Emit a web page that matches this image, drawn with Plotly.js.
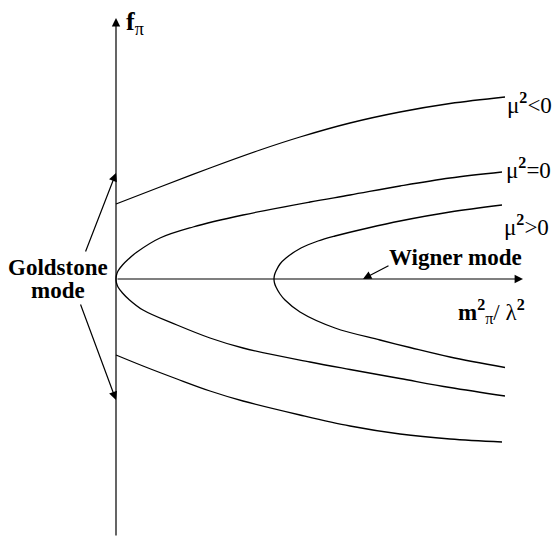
<!DOCTYPE html>
<html>
<head>
<meta charset="utf-8">
<script src="https://cdn.plot.ly/plotly-3.0.1.min.js"></script>
<style>
body { margin: 0; background: #fff; }
#grafica { width: 558px; height: 537px; }
</style>
</head>
<body>
<div id="grafica"></div>
<script>
// curvas f_pi vs m_pi^2/lambda^2 (unidades arbitrarias)
// mu^2 < 0 : dos ramas separadas
var xNegArriba = [0, 0.44, 0.94, 1.44, 1.84, 2.34, 2.84, 3.34, 3.89];
var yNegArriba = [0.75, 0.92, 1.11, 1.29, 1.42, 1.56, 1.67, 1.755, 1.82];
var xNegAbajo = [0, 0.27, 0.61, 0.94, 1.27, 1.84, 2.34, 2.84, 3.34, 3.86];
var yNegAbajo = [-0.76, -0.87, -1.00, -1.12, -1.22, -1.36, -1.47, -1.55, -1.60, -1.63];

// mu^2 = 0 : parabola con vertice en el origen
var xCero = [3.86, 3.34, 2.84, 2.34, 1.94, 1.27, 0.77, 0.44, 0.21, 0.125, 0.065, 0.02, 0.005, 0,
             0.005, 0.02, 0.065, 0.125, 0.27, 0.61, 0.94, 1.27, 1.94, 2.34, 2.84, 3.34, 3.89];
var yCero = [1.07, 1.01, 0.93, 0.84, 0.77, 0.64, 0.52, 0.41, 0.27, 0.20, 0.14, 0.08, 0.04, 0,
             -0.04, -0.08, -0.14, -0.20, -0.31, -0.46, -0.59, -0.69, -0.83, -0.905, -0.995, -1.085, -1.17];

// mu^2 > 0 : parabola desplazada
var xPos = [3.86, 3.34, 2.84, 2.52, 2.19, 2.02, 1.85, 1.70, 1.64, 1.60, 1.585, 1.58,
            1.585, 1.60, 1.64, 1.69, 1.84, 2.19, 2.64, 2.94, 3.34, 3.89];
var yPos = [0.74, 0.67, 0.58, 0.51, 0.43, 0.38, 0.31, 0.21, 0.15, 0.08, 0.04, 0,
            -0.04, -0.08, -0.15, -0.21, -0.33, -0.49, -0.61, -0.685, -0.78, -0.885];

// modo de Wigner: f_pi = 0
var xWigner = [0, 4.07];
var yWigner = [0, 0];

var etiquetas = ["\u03bc<sup><b>2</b></sup>&lt;0", "\u03bc<sup><b>2</b></sup>=0", "\u03bc<sup><b>2</b></sup>&gt;0"];

var linea = {color: "#000", width: 1.3, shape: "spline", smoothing: 1};

var data = [
    {x: xNegArriba, y: yNegArriba, mode: "lines", line: linea},
    {x: xNegAbajo, y: yNegAbajo, mode: "lines", line: linea},
    {x: xCero, y: yCero, mode: "lines", line: linea},
    {x: xPos, y: yPos, mode: "lines", line: linea}
];

var serif = "Liberation Serif";

function flecha(x, y, ax, ay) {
    return {
        x: x, y: y, ax: ax, ay: ay,
        xref: "x", yref: "y", axref: "x", ayref: "y",
        text: "", showarrow: true,
        arrowhead: 2, arrowsize: 1.4, arrowwidth: 1.2,
        arrowcolor: "#000", standoff: 0, startstandoff: 0
    };
}

function texto(t, x, y, xanchor, size) {
    return {
        x: x, y: y, xref: "x", yref: "y",
        text: t, showarrow: false,
        xanchor: xanchor, yanchor: "middle",
        font: {family: serif, size: size, color: "#000"}
    };
}

var annotations = [
    // ejes
    flecha(0, 2.61, 0, -2.58),
    flecha(xWigner[1], yWigner[1], xWigner[0], yWigner[0]),
    // Goldstone
    flecha(0, 1.06, -0.31, 0.26),
    flecha(0, -1.21, -0.36, -0.24),
    // Wigner
    flecha(2.47, 0, 2.74, 0.14),
    texto("<b>Goldstone</b>", -0.58, 0.12, "center", 23),
    texto("<b>mode</b>", -0.58, -0.11, "center", 23),
    texto("<b>Wigner mode</b>", 3.39, 0.22, "center", 23),
    texto("<b>f</b><sub>\u03c0</sub>", 0.08, 2.56, "left", 26),
    texto("<b>m</b><sup><b>2</b></sup><sub>\u03c0</sub>/ \u03bb<sup><b>2</b></sup>", 3.40, -0.32, "left", 23),
    texto(etiquetas[0], 3.89, 1.76, "left", 23),
    texto(etiquetas[1], 3.88, 1.11, "left", 23),
    texto(etiquetas[2], 3.86, 0.54, "left", 23)
];

var layout = {
    width: 558,
    height: 537,
    margin: {l: 0, r: 0, t: 0, b: 0},
    paper_bgcolor: "#fff",
    plot_bgcolor: "#fff",
    showlegend: false,
    font: {family: serif},
    xaxis: {range: [-1.16, 4.42], visible: false, fixedrange: true},
    yaxis: {range: [-2.58, 2.79], visible: false, fixedrange: true},
    annotations: annotations
};

var config = {staticPlot: true};

Plotly.newPlot("grafica", data, layout, config);
</script>
</body>
</html>
